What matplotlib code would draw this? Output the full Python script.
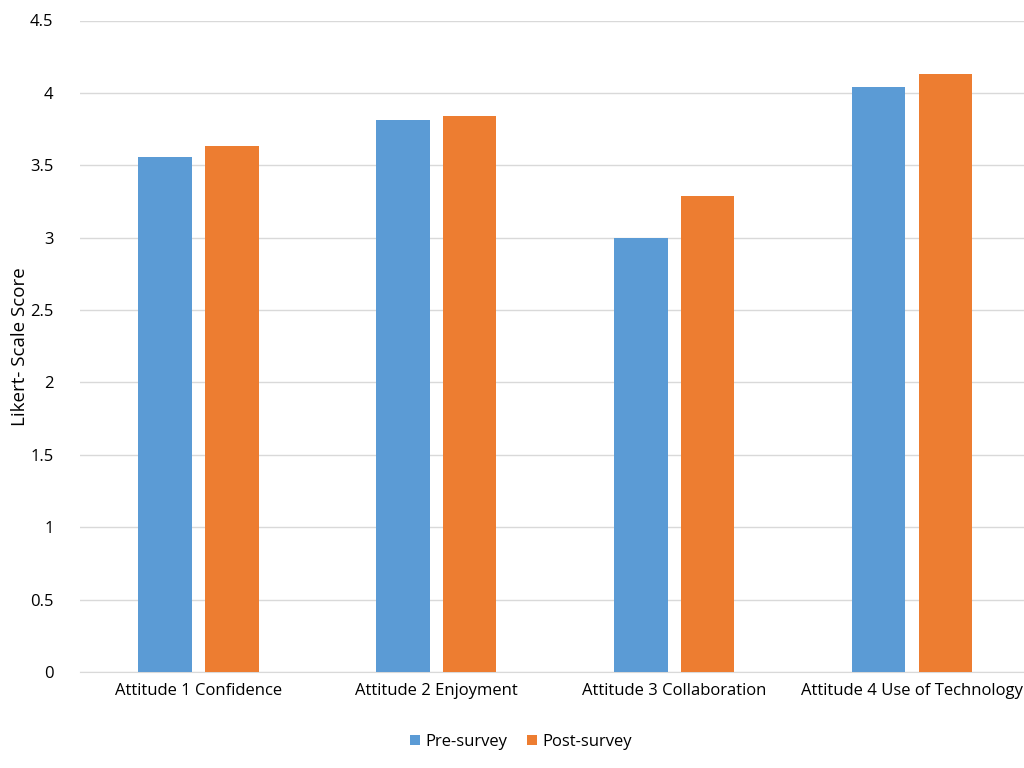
import matplotlib
matplotlib.use("Agg")
import matplotlib.pyplot as plt
import numpy as np

categories = ["Attitude 1 Confidence", "Attitude 2 Enjoyment", "Attitude 3 Collaboration", "Attitude 4 Use of Technology"]
pre_survey = [3.56, 3.81, 3.00, 4.04]
post_survey = [3.63, 3.84, 3.29, 4.13]
yticks = [0, 0.5, 1, 1.5, 2, 2.5, 3, 3.5, 4, 4.5]
ytick_labels = ["0", "0.5", "1", "1.5", "2", "2.5", "3", "3.5", "4", "4.5"]

plt.rcParams['font.family'] = ['Open Sans', 'DejaVu Sans']

fig = plt.figure(figsize=(10.24, 7.68), dpi=100)
ax = fig.add_axes([80/1024, 1-672/768, 1-80/1024, (672-20.5)/768])

x = np.arange(len(categories))
w = 0.225
off = 0.14
ax.bar(x - off, pre_survey, w, color="#5B9BD5", label="Pre-survey", zorder=3)
ax.bar(x + off, post_survey, w, color="#ED7D31", label="Post-survey", zorder=3)

ax.set_xlim(-0.498, 3.471)
ax.set_ylim(0, 4.5)
ax.set_yticks(yticks)
ax.set_yticklabels(ytick_labels, fontsize=12)
ax.set_xticks(x)
ax.set_xticklabels(categories, fontsize=12)
ax.yaxis.grid(True, color="#d9d9d9", linewidth=1, zorder=0)
ax.tick_params(axis='both', length=0, colors="#000000")
ax.tick_params(axis='y', pad=19)
ax.tick_params(axis='x', pad=8)
for s in ["top", "right", "left"]:
    ax.spines[s].set_visible(False)
ax.spines["bottom"].set_color("#d9d9d9")
ax.spines["bottom"].set_zorder(1)

ax.set_ylabel("Likert- Scale Score", fontsize=13.5)
ax.yaxis.set_label_coords(-51/944, 0.5)

leg = fig.legend(loc="center", bbox_to_anchor=(521/1024, 1-742/768), ncol=2, frameon=False,
                 fontsize=12, handlelength=0.6, handleheight=0.6, handletextpad=0.3, columnspacing=1.2)

fig.savefig("out.png", dpi=100)
